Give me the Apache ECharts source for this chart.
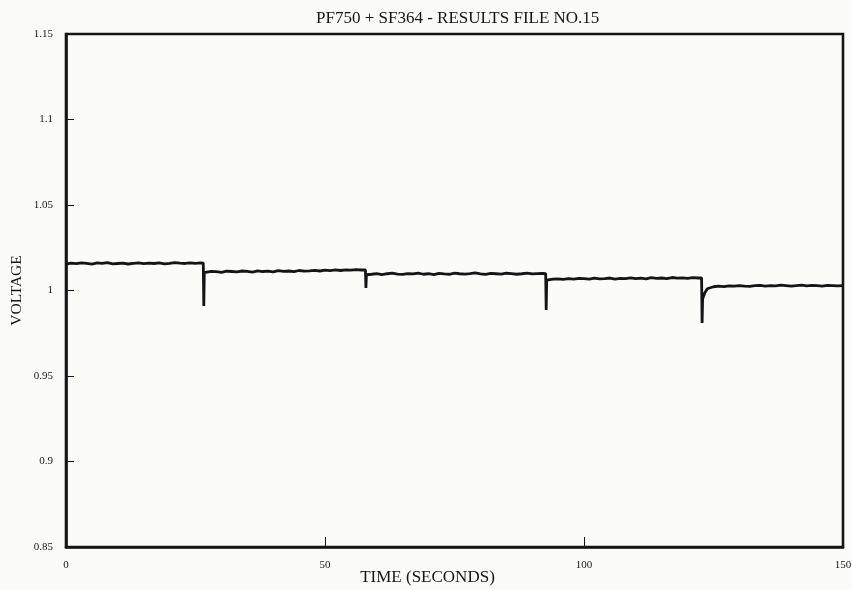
<!DOCTYPE html>
<html>
<head>
<meta charset="utf-8">
<script src="https://cdn.jsdelivr.net/npm/echarts@6/dist/echarts.min.js"></script>
<style>
  html, body { margin: 0; padding: 0; background: #fbfbf8; }
  #voltage_chart { width: 852px; height: 590px; }
</style>
</head>
<body>
<div id="voltage_chart"></div>
<script>
// sample times in seconds, with extra points around each load step
var times = [
  0, 1, 2, 3, 4, 5, 6, 7, 8, 9, 10, 11, 12, 13, 14, 15, 16, 17, 18, 19, 20, 21, 22, 23, 24, 25, 26,
  26.5, 26.6, 26.7,
  27, 28, 29, 30, 31, 32, 33, 34, 35, 36, 37, 38, 39, 40, 41, 42, 43, 44, 45, 46, 47, 48, 49, 50,
  51, 52, 53, 54, 55, 56, 57,
  57.8, 57.9, 58.0,
  59, 60, 61, 62, 63, 64, 65, 66, 67, 68, 69, 70, 71, 72, 73, 74, 75, 76, 77, 78, 79, 80, 81, 82,
  83, 84, 85, 86, 87, 88, 89, 90, 91, 92,
  92.6, 92.7, 92.8,
  93, 94, 95, 96, 97, 98, 99, 100, 101, 102, 103, 104, 105, 106, 107, 108, 109, 110, 111, 112,
  113, 114, 115, 116, 117, 118, 119, 120, 121, 122,
  122.7, 122.8, 122.9, 123.3, 123.8,
  124, 125, 126, 127, 128, 129, 130, 131, 132, 133, 134, 135, 136, 137, 138, 139, 140, 141, 142,
  143, 144, 145, 146, 147, 148, 149, 150
];

var volts = [
  1.0155, 1.0160, 1.0157, 1.0162, 1.0158, 1.0154, 1.0161, 1.0159, 1.0163, 1.0156, 1.0158, 1.0160,
  1.0155, 1.0159, 1.0162, 1.0157, 1.0160, 1.0158, 1.0161, 1.0156, 1.0159, 1.0163, 1.0160, 1.0158,
  1.0162, 1.0159, 1.0161,
  1.0160, 0.9909, 1.0105,
  1.0108, 1.0112, 1.0110, 1.0106, 1.0113, 1.0111, 1.0109, 1.0114, 1.0112, 1.0108, 1.0115, 1.0111,
  1.0113, 1.0109, 1.0116, 1.0112, 1.0114, 1.0110, 1.0117, 1.0113, 1.0115, 1.0118, 1.0114, 1.0119,
  1.0116, 1.0120, 1.0117, 1.0121, 1.0119, 1.0122, 1.0120,
  1.0121, 1.0015, 1.0092,
  1.0095, 1.0099, 1.0093, 1.0098, 1.0101, 1.0096, 1.0094, 1.0099, 1.0097, 1.0102, 1.0095, 1.0098,
  1.0093, 1.0100, 1.0097, 1.0095, 1.0101, 1.0098, 1.0096, 1.0099, 1.0103, 1.0097, 1.0094, 1.0100,
  1.0098, 1.0096, 1.0101, 1.0099, 1.0095, 1.0098, 1.0102, 1.0097, 1.0099, 1.0100,
  1.0099, 0.9886, 1.0060,
  1.0062, 1.0066, 1.0068, 1.0065, 1.0070, 1.0067, 1.0071, 1.0069, 1.0066, 1.0072, 1.0068, 1.0070,
  1.0073, 1.0067, 1.0071, 1.0069, 1.0074, 1.0070, 1.0072, 1.0068, 1.0075, 1.0071, 1.0073, 1.0070,
  1.0076, 1.0072, 1.0074, 1.0071, 1.0075, 1.0073,
  1.0074, 0.9810, 0.9950, 0.9985, 1.0010,
  1.0018, 1.0022, 1.0025, 1.0023, 1.0027, 1.0025, 1.0029, 1.0026, 1.0024, 1.0028, 1.0030, 1.0026,
  1.0029, 1.0027, 1.0031, 1.0028, 1.0025, 1.0029, 1.0032, 1.0027, 1.0030, 1.0028, 1.0026, 1.0030,
  1.0029, 1.0027, 1.0028
];

var xTicks = [0, 50, 100, 150];
var yTicks = [0.85, 0.9, 0.95, 1, 1.05, 1.1, 1.15];

var points = times.map(function (t, i) { return [t, volts[i]]; });

var serif = 'Liberation Serif';
var ink = '#151515';

var myChart = echarts.init(document.getElementById('voltage_chart'));
myChart.setOption({
    animation: false,
    backgroundColor: '#fbfbf8',
    title: {
        text: 'PF750 + SF364 - RESULTS FILE NO.15',
        left: 311,
        top: 5,
        textStyle: { fontFamily: serif, fontSize: 17, fontWeight: 'normal', color: ink }
    },
    grid: {
        left: 66, right: 9, top: 34, bottom: 43,
        containLabel: false,
        outerBoundsMode: 'none',
        show: true,
        borderColor: ink,
        borderWidth: 2.6
    },
    xAxis: {
        type: 'value',
        min: xTicks[0],
        max: xTicks[xTicks.length - 1],
        interval: xTicks[1] - xTicks[0],
        name: 'TIME (SECONDS)',
        nameLocation: 'middle',
        nameGap: 22,
        nameMoveOverlap: false,
        nameTextStyle: { fontFamily: serif, fontSize: 17, color: ink, padding: [0, 54, 0, 0] },
        axisLine: { show: true, lineStyle: { color: ink, width: 2.6 } },
        axisTick: { show: true, inside: true, length: 10, lineStyle: { color: ink, width: 1 } },
        axisLabel: { fontFamily: serif, fontSize: 11, color: ink, margin: 13 },
        splitLine: { show: false }
    },
    yAxis: {
        type: 'value',
        min: yTicks[0],
        max: yTicks[yTicks.length - 1],
        interval: 0.05,
        name: 'VOLTAGE',
        nameLocation: 'middle',
        nameGap: 41,
        nameMoveOverlap: false,
        nameTextStyle: { fontFamily: serif, fontSize: 15.5, color: ink },
        axisLine: { show: true, lineStyle: { color: ink, width: 2.6 } },
        axisTick: { show: true, inside: true, length: 8, lineStyle: { color: ink, width: 1 } },
        axisLabel: {
            fontFamily: serif, fontSize: 11, color: ink, margin: 13,
            formatter: function (v) { return String(+v.toFixed(2)); }
        },
        splitLine: { show: false }
    },
    series: [
        {
            name: 'Voltage',
            type: 'line',
            data: points,
            showSymbol: false,
            lineStyle: { color: ink, width: 2.8 }
        }
    ]
});
</script>
</body>
</html>
